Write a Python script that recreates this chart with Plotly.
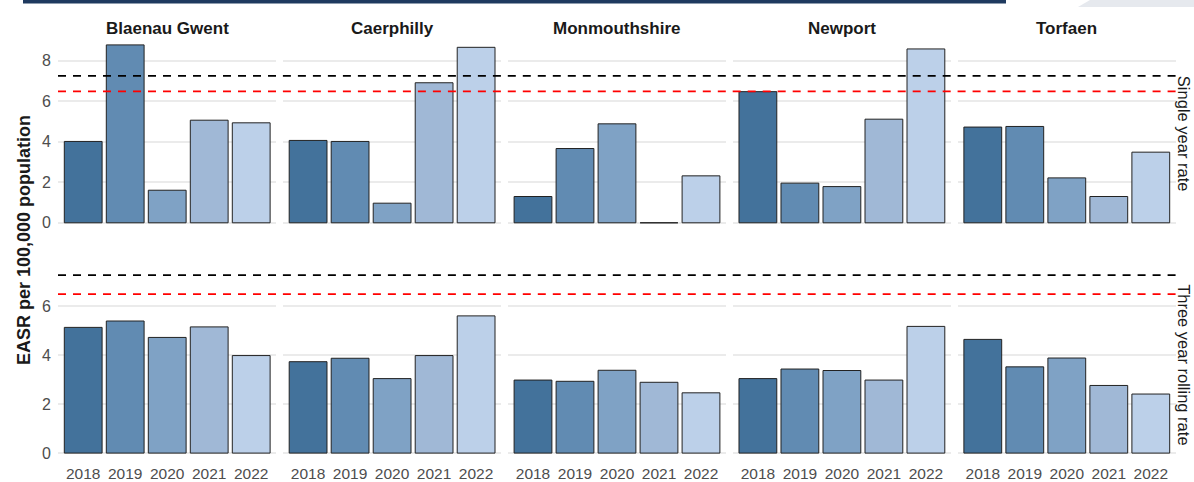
import plotly.graph_objects as go
from plotly.subplots import make_subplots

# ---- data -----------------------------------------------------------------
areas = ["Blaenau Gwent", "Caerphilly", "Monmouthshire", "Newport", "Torfaen"]
years = ["2018", "2019", "2020", "2021", "2022"]

# EASR per 100,000 population, one list per area (same order as `areas`)
single_year_rate = [
    [4.02, 8.79, 1.61, 5.07, 4.94],   # Blaenau Gwent
    [4.07, 4.02, 0.97, 6.92, 8.67],   # Caerphilly
    [1.30, 3.67, 4.89, 0.00, 2.32],   # Monmouthshire
    [6.48, 1.96, 1.79, 5.12, 8.59],   # Newport
    [4.73, 4.76, 2.22, 1.30, 3.49],   # Torfaen
]
three_year_rate = [
    [5.13, 5.39, 4.72, 5.15, 3.98],
    [3.73, 3.87, 3.04, 3.98, 5.60],
    [2.98, 2.93, 3.38, 2.89, 2.46],
    [3.04, 3.43, 3.37, 2.98, 5.17],
    [4.64, 3.52, 3.88, 2.76, 2.41],
]
row_labels = ["Single year rate", "Three year rolling rate"]

# reference rates drawn as dashed lines
wales_rate = 7.26
region_rate = 6.49

# ---- styling --------------------------------------------------------------
W, H = 1194, 482
M_L, M_R, M_T, M_B = 58, 18, 36, 20
FONT = "Liberation Sans, Arial, sans-serif"
year_colors = ["#43729b", "#618bb2", "#7fa2c5", "#a0b8d6", "#bcd0e9"]
grid_col = "#ebebeb"
tick_col = "#4d4d4d"

fig = make_subplots(rows=2, cols=5, horizontal_spacing=0.0058,
                    vertical_spacing=0.0812)

for r, series in enumerate([single_year_rate, three_year_rate], start=1):
    for c, vals in enumerate(series, start=1):
        fig.add_trace(
            go.Bar(x=years, y=vals,
                   marker=dict(color=year_colors,
                               line=dict(color="#222222", width=1)),
                   showlegend=False, hoverinfo="x+y"),
            row=r, col=c)

dash = "8px,7px"
fig.add_hline(y=wales_rate, line=dict(color="#000000", width=1.8, dash=dash),
              row="all", col="all")
fig.add_hline(y=region_rate, line=dict(color="#ff0000", width=1.8, dash=dash),
              row="all", col="all")

fig.update_xaxes(type="category", range=[-0.6, 4.6], showgrid=False,
                 showline=False, zeroline=False, ticks="",
                 tickfont=dict(family=FONT, size=15.5, color=tick_col),
                 ticklabelstandoff=0)
fig.update_xaxes(showticklabels=False, row=1)

top_max = max(max(v) for v in single_year_rate)
bot_max = max(max(max(v) for v in three_year_rate), wales_rate)
fig.update_yaxes(showgrid=True, gridcolor=grid_col, gridwidth=1.6,
                 zeroline=False, showline=False, ticks="",
                 tickfont=dict(family=FONT, size=16, color=tick_col),
                 ticklabelstandoff=6, showticklabels=False)
fig.update_yaxes(range=[-0.05 * top_max, 1.05 * top_max],
                 tickvals=[0, 2, 4, 6, 8], row=1)
fig.update_yaxes(range=[-0.05 * bot_max, 1.05 * bot_max],
                 tickvals=[0, 2, 4, 6], row=2)
fig.update_yaxes(showticklabels=True, col=1)


def px_x(px):
    return (px - M_L) / (W - M_L - M_R)


def px_y(py):
    return (H - M_B - py) / (H - M_T - M_B)


# facet titles along the top
for i, name in enumerate(areas):
    xa = fig.layout["xaxis" if i == 0 else f"xaxis{i + 1}"]
    cx = (xa.domain[0] + xa.domain[1]) / 2
    fig.add_annotation(x=cx, y=px_y(28.5), xref="paper", yref="paper",
                       text=f"<b>{name}</b>", showarrow=False,
                       xanchor="center", yanchor="middle",
                       font=dict(family=FONT, size=17, color="#1a1a1a"))

# row strip labels on the right
for r, lab in enumerate(row_labels, start=1):
    ya = fig.layout["yaxis" if r == 1 else "yaxis6"]
    cy = (ya.domain[0] + ya.domain[1]) / 2
    fig.add_annotation(x=px_x(1184), y=cy, xref="paper", yref="paper",
                       text=lab, textangle=90, showarrow=False,
                       xanchor="center", yanchor="middle",
                       font=dict(family=FONT, size=16.5, color="#1a1a1a"))

# shared y-axis title
fig.add_annotation(x=px_x(24), y=px_y(240), xref="paper", yref="paper",
                   text="<b>EASR per 100,000 population</b>", textangle=-90,
                   showarrow=False, xanchor="center", yanchor="middle",
                   font=dict(family=FONT, size=18, color="#1a1a1a"))

# header band
fig.add_shape(type="rect", xref="paper", yref="paper",
              x0=px_x(23), x1=px_x(1006), y0=px_y(3.5), y1=px_y(0),
              line=dict(width=0), fillcolor="#1f3a5f", layer="above")
fig.add_shape(type="path", xref="paper", yref="paper",
              path=(f"M {px_x(1078)} {px_y(7)} L {px_x(1090)} {px_y(0)} "
                    f"L {px_x(1194)} {px_y(0)} L {px_x(1194)} {px_y(7)} Z"),
              line=dict(width=0), fillcolor="#e6e9ee", layer="above")

fig.update_layout(
    width=W, height=H,
    margin=dict(l=M_L, r=M_R, t=M_T, b=M_B, autoexpand=False),
    plot_bgcolor="white", paper_bgcolor="white",
    bargap=0.1,
    font=dict(family=FONT),
)

fig.write_html("out.html")
